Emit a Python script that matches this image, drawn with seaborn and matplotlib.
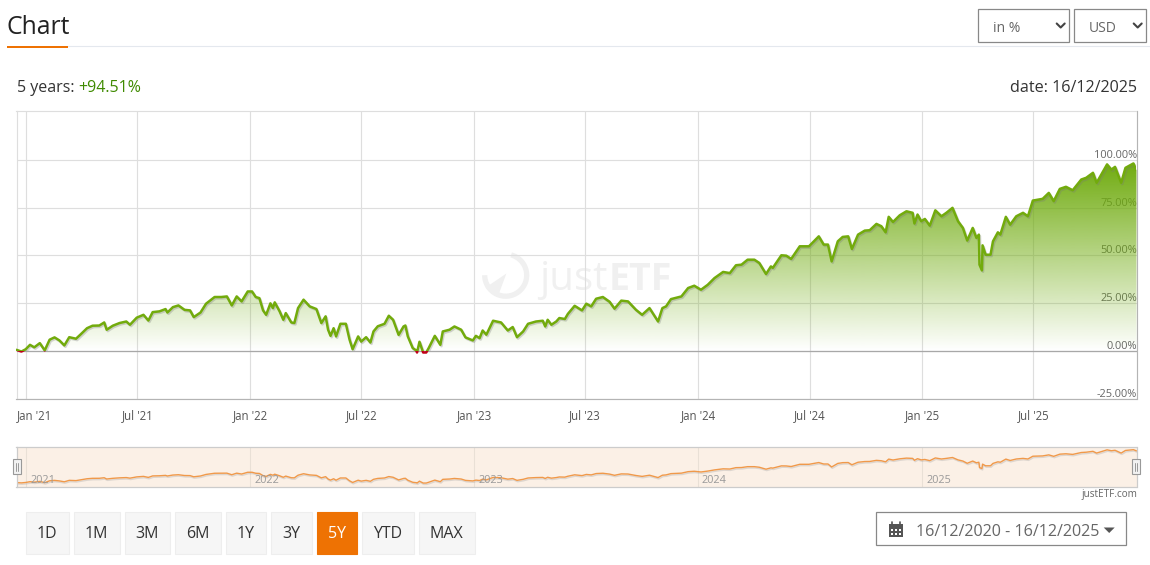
import numpy as np
import pandas as pd
import matplotlib
matplotlib.use('Agg')
import matplotlib.pyplot as plt
import matplotlib.dates as mdates
import matplotlib.patheffects as pe
from matplotlib.patches import Rectangle, Polygon, Arc
from matplotlib.transforms import ScaledTranslation
import seaborn as sns

# ── Data ──────────────────────────────────────────────────────────────────────
START_DATE = "2020-12-16"
END_DATE = "2025-12-16"

days_since_start = [
    0, 8, 15, 22, 29, 38, 46, 54, 62, 70, 78, 86, 97, 105, 115, 124, 135, 143, 147, 157,
    168, 179, 185, 196, 207, 215, 222, 233, 243, 246, 255, 264, 274, 283, 289, 300, 309, 323, 334, 343,
    351, 359, 367, 377, 384, 390, 396, 402, 407, 414, 418, 421, 429, 435, 439, 448, 453, 459, 468, 478,
    489, 497, 504, 508, 512, 517, 521, 528, 537, 543, 548, 557, 562, 570, 577, 582, 589, 600, 607, 614,
    623, 631, 634, 638, 646, 652, 653, 657, 663, 668, 672, 682, 691, 695, 706, 714, 725, 732, 744, 749,
    755, 760, 766, 777, 790, 801, 809, 816, 826, 834, 847, 858, 862, 866, 872, 880, 885, 894, 899, 910,
    922, 929, 937, 945, 956, 967, 975, 986, 997, 1010, 1020, 1032, 1046, 1053, 1059, 1067, 1084, 1095, 1105, 1116,
    1127, 1138, 1152, 1163, 1173, 1182, 1192, 1203, 1211, 1222, 1230, 1233, 1247, 1255, 1263, 1277, 1292, 1308, 1316, 1323,
    1329, 1339, 1347, 1356, 1362, 1372, 1383, 1391, 1402, 1410, 1417, 1422, 1429, 1440, 1451, 1461, 1464, 1469, 1475, 1481,
    1489, 1498, 1508, 1516, 1526, 1535, 1543, 1550, 1559, 1565, 1569, 1570, 1574, 1575, 1580, 1588, 1592, 1600, 1604, 1613,
    1620, 1630, 1641, 1649, 1657, 1673, 1683, 1691, 1701, 1711, 1722, 1736, 1744, 1755, 1761, 1778, 1785, 1791, 1801, 1808,
    1821, 1826,
]
returns_pct = [
    0.7, -0.2, 1.0, 3.3, 2.0, 4.2, 0.4, 6.0, 7.2, 5.6, 3.0, 7.3, 6.5, 8.9, 12.0, 13.3, 13.4, 15.0, 11.2, 13.3,
    14.7, 15.5, 13.8, 17.5, 19.0, 16.0, 20.4, 20.8, 22.0, 20.2, 23.0, 23.9, 21.6, 21.3, 17.8, 20.2, 24.8, 28.3, 28.3, 28.6,
    23.9, 28.6, 26.0, 31.2, 31.2, 28.3, 27.7, 21.3, 19.0, 25.0, 22.5, 25.5, 20.8, 16.4, 19.9, 15.0, 14.7, 22.5, 26.9, 23.4,
    22.0, 14.7, 18.2, 11.2, 8.0, 12.0, 7.7, 14.3, 14.3, 6.0, 1.0, 7.7, 5.0, 7.3, 4.5, 10.3, 13.0, 14.3, 18.5, 16.4,
    8.5, 12.9, 13.4, 7.7, 1.6, 0.3, -0.7, 4.9, -0.7, -0.7, 1.6, 8.0, 3.3, 10.3, 11.2, 12.9, 11.2, 7.2, 5.6, 8.0,
    6.8, 10.8, 8.6, 15.9, 15.0, 10.8, 12.6, 7.3, 10.3, 14.3, 15.5, 15.9, 12.9, 16.4, 13.8, 15.5, 17.3, 16.8, 19.5, 23.7,
    21.3, 24.8, 23.4, 27.4, 28.3, 25.8, 22.2, 26.4, 26.0, 21.6, 19.0, 22.5, 15.5, 22.5, 23.4, 27.2, 28.6, 33.0, 34.2, 32.1,
    34.7, 38.2, 41.4, 40.8, 44.9, 45.2, 47.8, 47.8, 46.1, 40.3, 44.3, 43.5, 50.1, 49.9, 48.2, 54.8, 54.8, 60.0, 55.7, 55.7,
    46.9, 57.4, 59.7, 60.0, 53.4, 60.9, 63.0, 63.2, 66.5, 65.3, 62.1, 70.2, 67.5, 71.0, 73.1, 72.3, 66.7, 71.4, 67.9, 69.1,
    65.6, 73.6, 70.5, 72.3, 74.9, 67.9, 64.4, 57.8, 64.4, 59.2, 60.9, 45.2, 42.2, 55.3, 50.4, 50.4, 57.4, 62.1, 60.9, 70.2,
    66.1, 70.5, 72.3, 70.5, 78.7, 79.6, 82.7, 78.4, 84.8, 85.9, 84.1, 89.7, 90.6, 93.2, 88.0, 97.6, 94.9, 96.3, 88.0, 95.8,
    98.1, 94.51,
]

x_tick_dates = ["2021-01-01", "2021-07-01", "2022-01-01", "2022-07-01", "2023-01-01",
                "2023-07-01", "2024-01-01", "2024-07-01", "2025-01-01", "2025-07-01"]
x_tick_labels = ["Jan '21", "Jul '21", "Jan '22", "Jul '22", "Jan '23",
                 "Jul '23", "Jan '24", "Jul '24", "Jan '25", "Jul '25"]
y_ticks = [-25, 0, 25, 50, 75, 100]
y_tick_labels = ["-25.00%", "0.00%", "25.00%", "50.00%", "75.00%", "100.00%"]

nav_year_dates = ["2021-01-01", "2022-01-01", "2023-01-01", "2024-01-01", "2025-01-01"]
nav_year_labels = ["2021", "2022", "2023", "2024", "2025"]

range_buttons = ["1D", "1M", "3M", "6M", "1Y", "3Y", "5Y", "YTD", "MAX"]
button_edges = [(26, 69), (74, 120), (125, 170), (175, 221), (226, 266),
                (271, 312), (317, 357), (362, 414), (419, 475)]

# ── Config ────────────────────────────────────────────────────────────────────
W, H = 1150, 565
ORANGE = "#ee7203"
LINE_GREEN = "#72ab0c"
GRID = "#dedede"
EDGE = "#888888"

sns.set_theme(style="white")
plt.rcParams['font.family'] = ['Open Sans', 'DejaVu Sans']

df = pd.DataFrame({
    "date": pd.Timestamp(START_DATE) + pd.to_timedelta(days_since_start, unit="D"),
    "pct": returns_pct,
})
x_min, x_max = pd.Timestamp(START_DATE), pd.Timestamp(END_DATE)


def px_axes(left, top, right, bottom):
    return fig.add_axes([left / W, 1 - bottom / H, (right - left) / W, (bottom - top) / H])


fig = plt.figure(figsize=(W / 100, H / 100), dpi=100, facecolor="white")

# ── Page furniture, drawn in pixel coordinates ────────────────────────────────
ui = fig.add_axes([0, 0, 1, 1], zorder=0)
ui.set_xlim(0.3, W + 0.3)
ui.set_ylim(H + 0.5, 0.5)
ui.axis("off")

ui.text(7, 27.5, "Chart", fontsize=17.8, color="#222222", va="center", ha="left")
ui.plot([68, W + 1], [46.5, 46.5], color="#e4e8ee", lw=0.8)
ui.add_patch(Rectangle((7, 46), 61, 2, color=ORANGE, lw=0))

ui.text(17, 88.5, "5 years: ", fontsize=11.5, color="#333333", va="center")
ui.text(79, 88.5, "+94.51%", fontsize=11.5, color="#3f8a00", va="center")
ui.text(1137.5, 88.5, "date: 16/12/2025", fontsize=11.6, color="#333333", va="center", ha="right")

# select boxes
for (x0, x1, label, tx, cx) in [(978, 1069, "in %", 993, 1061), (1074, 1146, "USD", 1089, 1138)]:
    ui.add_patch(Rectangle((x0, 9.5), x1 - x0, 32.5, fc="white", ec=EDGE, lw=0.9))
    ui.text(tx, 28.5, label, fontsize=10, color="#666666", va="center")
    ui.plot([cx - 4, cx, cx + 4], [24, 28, 24], color="#444444", lw=1.5)

# range buttons
for label, (x0, x1) in zip(range_buttons, button_edges):
    active = label == "5Y"
    ui.add_patch(Rectangle((x0, 512), x1 - x0, 42, fc=ORANGE if active else "#f6f6f6",
                           ec=ORANGE if active else "#eeeeee", lw=0.8))
    ui.text((x0 + x1) / 2, 534.5, label, fontsize=11.5, ha="center", va="center",
            color="white" if active else "#333333")

# date range box
ui.add_patch(Rectangle((876, 512.5), 250.5, 33, fc="white", ec=EDGE, lw=0.9))
ui.text(916, 532.5, "16/12/2020 - 16/12/2025", fontsize=11.6, color="#666666", va="center")
ui.add_patch(Polygon([(1104, 528), (1115, 528), (1109.5, 533.5)], color="#555555", lw=0))
ui.add_patch(Rectangle((889, 524), 14, 13, color="#555555", lw=0))
ui.plot([892, 892], [522, 525], color="#555555", lw=1.2)
ui.plot([900, 900], [522, 525], color="#555555", lw=1.2)
for cx in (891, 895, 899):
    for cy in (529, 533):
        ui.add_patch(Rectangle((cx, cy), 2.5, 2.5, color="white", lw=0))

ui.text(1137.5, 495.5, "justETF.com", fontsize=7.2, color="#666666", ha="right", va="center")

# watermark
WM = "#f0f0f0"
ui.add_patch(Arc((506, 275.7), 42, 42, theta1=-75, theta2=180, color=WM, lw=3.8))
ui.add_patch(Polygon([(486, 288), (506.7, 274), (498.3, 296.7)], color=WM, lw=0))
ui.text(539, 280, "just", fontsize=29, color=WM, va="center", ha="left")
ui.text(609, 280, "ETF", fontsize=27, color=WM, va="center", ha="left", fontweight="bold")

# ── Main chart ────────────────────────────────────────────────────────────────
ax = px_axes(16.5, 111, 1136.5, 399)
ax.set_zorder(1)
ax.patch.set_alpha(0)

sns.lineplot(data=df, x="date", y="pct", ax=ax, color=LINE_GREEN, linewidth=1.8,
             estimator=None, errorbar=None, zorder=4)
green = ax.lines[-1]
green.set_path_effects([pe.SimpleLineShadow(offset=(0.8, -1), shadow_color="#777777", alpha=0.3),
                        pe.Normal()])
sns.lineplot(data=df, x="date", y="pct", ax=ax, color="#c00018", linewidth=1.8,
             estimator=None, errorbar=None, zorder=4)
red = ax.lines[-1]

x0_num, x1_num = mdates.date2num(x_min), mdates.date2num(x_max)
green.set_clip_path(Rectangle((x0_num, 0), x1_num - x0_num, 130, transform=ax.transData))
red.set_clip_path(Rectangle((x0_num, -30), x1_num - x0_num, 30, transform=ax.transData))

# gradient under the line
area = ax.fill_between(df["date"], df["pct"], 0, color="none", lw=0)
grad = np.zeros((256, 1, 4))
grad[..., :3] = matplotlib.colors.to_rgb("#6eaa0b")
grad[..., 3] = np.linspace(0, 1, 256).reshape(-1, 1)
im = ax.imshow(grad, origin="lower", aspect="auto", extent=[x0_num, x1_num, 0, 100], zorder=2)
im.set_clip_path(area.get_paths()[0], transform=ax.transData)

ax.axhline(0, color="#a8a8a8", lw=0.9, zorder=3)
ax.set_xlim(x_min, x_max)
ax.set_ylim(-25, 125.5)
ax.set_xlabel("")
ax.set_ylabel("")

ax.set_axisbelow(True)
ax.grid(True, color=GRID, lw=0.85)
ax.set_xticks(pd.to_datetime(x_tick_dates))
ax.set_xticklabels(x_tick_labels)
ax.set_yticks(y_ticks)
ax.set_yticklabels(y_tick_labels)
ax.yaxis.tick_right()
ax.tick_params(axis="x", length=0, pad=7, labelsize=8.3, labelcolor="#555555")
ax.tick_params(axis="y", length=0, pad=0, labelsize=7.9, labelcolor="#666666")
y_shift = ScaledTranslation(0.5 / 100, -1 / 100, fig.dpi_scale_trans)
for lab in ax.get_yticklabels():
    lab.set_ha("right")
    lab.set_va("bottom")
    lab.set_zorder(6)
    lab.set_transform(lab.get_transform() + y_shift)
# first date label is pushed inside the plot area
first = ax.get_xticklabels()[0]
first.set_transform(first.get_transform() + ScaledTranslation(8 / 100, 0, fig.dpi_scale_trans))

for side, col in [("left", GRID), ("top", GRID), ("bottom", "#b4b4b4"), ("right", "#b4b4b4")]:
    ax.spines[side].set_color(col)
    ax.spines[side].set_linewidth(0.85)

# ── Navigator ─────────────────────────────────────────────────────────────────
nav = px_axes(16.5, 447, 1136.5, 487)
nav.set_zorder(1)
nav.set_facecolor("#fbf0e6")
sns.lineplot(data=df, x="date", y="pct", ax=nav, color="#f0994a", linewidth=1.0,
             estimator=None, errorbar=None)
nav.lines[-1].set_path_effects([pe.SimpleLineShadow(offset=(0.5, -1), shadow_color="#999999", alpha=0.3),
                                pe.Normal()])
nav.set_xlim(x_min, x_max)
nav.set_ylim(-12.4, 106)
nav.set_xlabel("")
nav.set_ylabel("")
nav.set_yticks([])
nav.set_xticks(pd.to_datetime(nav_year_dates))
nav.set_xticklabels([])
nav.tick_params(axis="x", length=0)
nav.set_axisbelow(True)
nav.grid(True, axis="x", color="#e9e0d6", lw=0.8)
for yd, lab in zip(nav_year_dates, nav_year_labels):
    nav.annotate(lab, (pd.Timestamp(yd), 0), xycoords=("data", "axes fraction"),
                 xytext=(4, 1), textcoords="offset pixels", fontsize=7.8, color="#999999",
                 ha="left", va="bottom")
for s in nav.spines.values():
    s.set_color("#cccccc")
    s.set_linewidth(0.9)

# navigator handles
ui2 = fig.add_axes([0, 0, 1, 1], zorder=2)
ui2.set_xlim(0.3, W + 0.3)
ui2.set_ylim(H + 0.5, 0.5)
ui2.axis("off")
for hx in (13.5, 1132.5):
    ui2.add_patch(Rectangle((hx, 459.5), 8, 15, fc="#f2f2f2", ec="#999999", lw=0.8))
    ui2.plot([hx + 3, hx + 3], [463, 471], color="#999999", lw=0.7)
    ui2.plot([hx + 5, hx + 5], [463, 471], color="#999999", lw=0.7)

plt.savefig("out.png", dpi=100)
plt.close()
